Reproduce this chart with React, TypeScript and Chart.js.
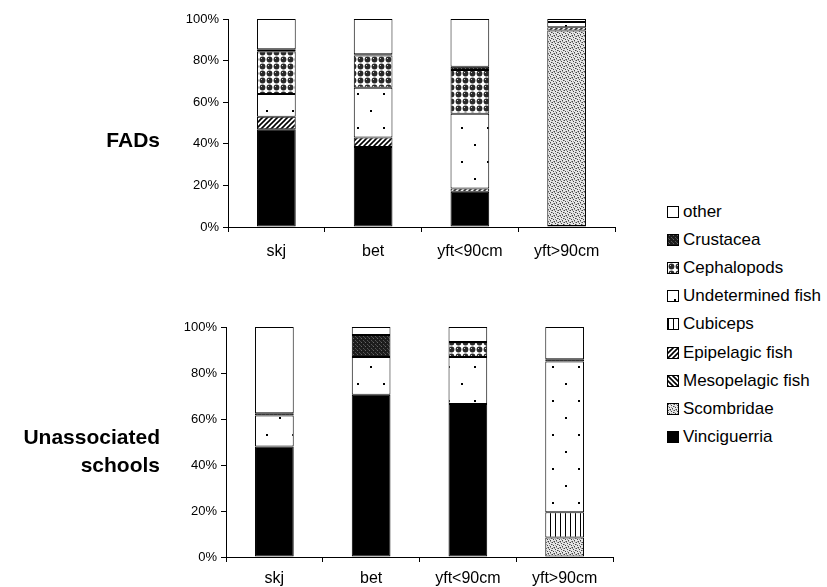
import React, { useEffect, useMemo, useRef } from 'react';
import { Chart, registerables } from 'chart.js';

Chart.register(...registerables);

const categories = ['skj', 'bet', 'yft<90cm', 'yft>90cm'];
const yTickValues = [0, 20, 40, 60, 80, 100];

// stacking order bottom -> top
const seriesNames = [
  'Vinciguerria',
  'Scombridae',
  'Mesopelagic fish',
  'Epipelagic fish',
  'Cubiceps',
  'Undetermined fish',
  'Cephalopods',
  'Crustacea',
  'other',
];
const seriesKinds = ['vinc', 'scomb', 'meso', 'epi', 'cubi', 'undet', 'ceph', 'crust', 'other'];

// FADs
const fadVinciguerria = [47, 38.5, 17, 0.5];
const fadScombridae = [0, 0, 0, 94];
const fadMesopelagic = [0, 0, 0, 0];
const fadEpipelagic = [6, 4.5, 1.5, 1.5];
const fadCubiceps = [0, 0, 0, 0];
const fadUndetermined = [11, 24, 36, 2.5];
const fadCephalopods = [20.5, 15.5, 21, 0];
const fadCrustacea = [1, 0.5, 1.5, 0];
const fadOther = [14.5, 17, 23, 1.5];

// Unassociated schools
const freeVinciguerria = [48, 70.5, 66.5, 0];
const freeScombridae = [0, 0, 0, 8.5];
const freeMesopelagic = [0, 0, 0, 0];
const freeEpipelagic = [0, 0, 0, 0];
const freeCubiceps = [0, 0, 0, 11];
const freeUndetermined = [13.5, 16.5, 20.5, 65.5];
const freeCephalopods = [0, 0, 6.5, 0];
const freeCrustacea = [1, 9.5, 0, 1];
const freeOther = [37.5, 3.5, 6.5, 14];

const fadSeries = [
  fadVinciguerria, fadScombridae, fadMesopelagic, fadEpipelagic, fadCubiceps,
  fadUndetermined, fadCephalopods, fadCrustacea, fadOther,
];
const freeSeries = [
  freeVinciguerria, freeScombridae, freeMesopelagic, freeEpipelagic, freeCubiceps,
  freeUndetermined, freeCephalopods, freeCrustacea, freeOther,
];

const FONT = "'Liberation Sans', Arial, Helvetica, sans-serif";

function makeTile(kind: string): HTMLCanvasElement {
  const c = document.createElement('canvas');
  const g = c.getContext('2d') as CanvasRenderingContext2D;
  const px = (x: number, y: number, col: string) => { g.fillStyle = col; g.fillRect(x, y, 1, 1); };
  switch (kind) {
    case 'vinc':
      c.width = 4; c.height = 4; g.fillStyle = '#000'; g.fillRect(0, 0, 4, 4); break;
    case 'other':
      c.width = 4; c.height = 4; g.fillStyle = '#fff'; g.fillRect(0, 0, 4, 4); break;
    case 'crust':
      c.width = 4; c.height = 4; g.fillStyle = '#1c1c1c'; g.fillRect(0, 0, 4, 4);
      px(1, 0, '#666'); px(3, 2, '#555'); px(0, 3, '#444'); break;
    case 'ceph':
      c.width = 7; c.height = 7; g.fillStyle = '#fff'; g.fillRect(0, 0, 7, 7);
      g.fillStyle = '#2a2a2a'; g.beginPath(); g.arc(3.5, 3.5, 2.9, 0, Math.PI * 2); g.fill();
      px(2, 2, '#ccc'); break;
    case 'undet':
      c.width = 26; c.height = 34; g.fillStyle = '#fff'; g.fillRect(0, 0, 26, 34);
      g.fillStyle = '#000'; g.fillRect(6, 8, 2, 2); g.fillRect(19, 25, 2, 2); break;
    case 'cubi':
      c.width = 5; c.height = 2; g.fillStyle = '#fff'; g.fillRect(0, 0, 5, 2);
      g.fillStyle = '#000'; g.fillRect(0, 0, 1, 2); break;
    case 'epi':
    case 'meso': {
      c.width = 5; c.height = 5; g.fillStyle = '#fff'; g.fillRect(0, 0, 5, 5);
      g.strokeStyle = '#000'; g.lineWidth = 1.6;
      const lines = kind === 'epi'
        ? [[-1, 1, 1, -1], [0, 5, 5, 0], [4, 6, 6, 4]]
        : [[-1, 4, 1, 6], [0, 0, 5, 5], [4, -1, 6, 1]];
      for (const [a, b, cc, d] of lines) { g.beginPath(); g.moveTo(a, b); g.lineTo(cc, d); g.stroke(); }
      break;
    }
    case 'scomb': {
      c.width = 6; c.height = 6; g.fillStyle = '#e6e6e6'; g.fillRect(0, 0, 6, 6);
      const dark = [[0, 0], [3, 1], [1, 3], [4, 4], [2, 5], [5, 2]];
      const mid = [[2, 0], [5, 0], [0, 2], [3, 3], [1, 5], [4, 5]];
      for (const [x, y] of dark) px(x, y, '#444');
      for (const [x, y] of mid) px(x, y, '#999');
      break;
    }
    default:
      c.width = 2; c.height = 2;
  }
  return c;
}

function buildDatasets(series: number[][], ctx: CanvasRenderingContext2D) {
  return series.map((vals, i) => ({
    label: seriesNames[i],
    data: vals.map((v) => (v === 0 ? null : v)),
    backgroundColor: ctx.createPattern(makeTile(seriesKinds[i]), 'repeat') as any,
    borderColor: '#000',
    borderWidth: 1,
    borderSkipped: false as const,
    barPercentage: 0.4,
    categoryPercentage: 1,
  }));
}

function makeOptions(padTop: number, padRight: number, yWidth: number, xHeight: number, labelPad: number) {
  return {
    responsive: false,
    animation: false as const,
    layout: { padding: { top: padTop, right: padRight, left: 0, bottom: 0 } },
    plugins: { legend: { display: false }, tooltip: { enabled: false } },
    scales: {
      x: {
        stacked: true,
        afterFit: (s: any) => { s.height = xHeight; },
        grid: { display: true, drawOnChartArea: false, tickLength: 5, color: '#000', offset: true },
        border: { display: true, color: '#000', width: 1 },
        ticks: { color: '#000', font: { family: FONT, size: 16 }, padding: labelPad, maxRotation: 0 },
      },
      y: {
        stacked: true,
        min: 0,
        max: 100,
        afterFit: (s: any) => { s.width = yWidth; },
        afterBuildTicks: (s: any) => { s.ticks = yTickValues.map((v) => ({ value: v })); },
        grid: { display: true, drawOnChartArea: false, tickLength: 5, color: '#000' },
        border: { display: true, color: '#000', width: 1 },
        ticks: { color: '#000', font: { family: FONT, size: 13 }, padding: 4, callback: (v: any) => v + '%' },
      },
    },
  };
}

function BarPanel(props: { series: number[][]; top: number; height: number; padTop: number; padRight: number; yWidth: number; xHeight: number; labelPad: number }) {
  const ref = useRef<HTMLCanvasElement | null>(null);
  useEffect(() => {
    const canvas = ref.current;
    if (!canvas) return;
    const ctx = canvas.getContext('2d') as CanvasRenderingContext2D;
    const chart = new Chart(canvas, {
      type: 'bar',
      data: { labels: categories, datasets: buildDatasets(props.series, ctx) as any },
      options: makeOptions(props.padTop, props.padRight, props.yWidth, props.xHeight, props.labelPad) as any,
    });
    return () => chart.destroy();
  }, []);
  return (
    <canvas
      ref={ref}
      width={640}
      height={props.height}
      style={{ position: 'absolute', left: 0, top: props.top, width: 640, height: props.height }}
    />
  );
}

export default function App() {
  const legendItems = useMemo(() => {
    return seriesNames
      .map((name, i) => ({ name, url: makeTile(seriesKinds[i]).toDataURL() }))
      .reverse();
  }, []);

  const labelStyle: React.CSSProperties = {
    position: 'absolute',
    fontFamily: FONT,
    fontWeight: 'bold',
    fontSize: 21,
    color: '#000',
    textAlign: 'right',
    width: 160,
    left: 0,
    lineHeight: '28px',
    whiteSpace: 'nowrap',
  };

  return (
    <div style={{ position: 'absolute', left: 0, top: 0, width: 827, height: 587, background: '#fff', overflow: 'hidden' }}>
      <BarPanel series={fadSeries} top={0} height={270} padTop={19} padRight={25} yWidth={228} xHeight={43} labelPad={10} />
      <BarPanel series={freeSeries} top={290} height={297} padTop={37} padRight={27} yWidth={226} xHeight={30} labelPad={7} />
      <div style={{ ...labelStyle, top: 126 }}>FADs</div>
      <div style={{ ...labelStyle, top: 423 }}>Unassociated<br />schools</div>
      {legendItems.map((it, i) => (
        <div
          key={it.name}
          style={{
            position: 'absolute',
            left: 667,
            top: 212 + i * 28.1 - 11,
            height: 22,
            display: 'flex',
            alignItems: 'center',
            fontFamily: FONT,
            fontSize: 17,
            color: '#000',
            whiteSpace: 'nowrap',
          }}
        >
          <span
            style={{
              display: 'inline-block',
              width: 10,
              height: 10,
              border: '1px solid #000',
              backgroundImage: `url(${it.url})`,
              marginRight: 4,
            }}
          />
          {it.name}
        </div>
      ))}
    </div>
  );
}
